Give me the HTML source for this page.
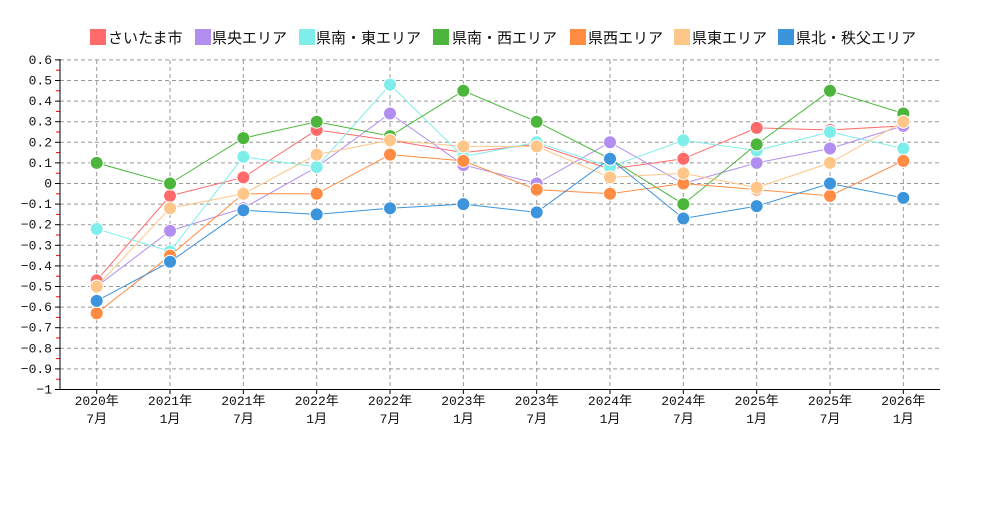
<!DOCTYPE html>
<html><head><meta charset="utf-8"><style>
body{margin:0;background:#fff;width:1000px;height:500px;overflow:hidden}
svg text{font-family:"Liberation Mono","Noto Sans CJK JP",monospace;font-size:13px;fill:#111}
</style></head><body>
<svg id="c" width="1000" height="500" xmlns="http://www.w3.org/2000/svg"></svg>
<script>
const s=document.getElementById('c');let h='';
const Y=v=>183.5-v*206;
const xs=i=>96.7+i*73.33;
for(let k=-10;k<=6;k++){const y=Y(k/10);
 if(k>-10)h+=`<line x1="60" x2="940" y1="${y}" y2="${y}" stroke="#999" stroke-dasharray="4,3"/>`;
 h+=`<line x1="55" x2="60" y1="${y}" y2="${y}" stroke="#000"/>`;
 const lab=k==0?'0':k==-10?'−1':(k<0?'−':'')+'0.'+Math.abs(k);
 h+=`<text x="52" y="${y+4}" text-anchor="end">${lab}</text>`;
 if(k<6){const y2=Y(k/10+0.05);h+=`<line x1="56" x2="60" y1="${y2}" y2="${y2}" stroke="#f00"/>`;}
}
const labs=[['2020年','7月'],['2021年','1月'],['2021年','7月'],['2022年','1月'],['2022年','7月'],['2023年','1月'],['2023年','7月'],['2024年','1月'],['2024年','7月'],['2025年','1月'],['2025年','7月'],['2026年','1月']];
labs.forEach((l,i)=>{const x=xs(i);
 h+=`<line x1="${x}" x2="${x}" y1="60" y2="389" stroke="#999" stroke-dasharray="4,3"/>`;
 h+=`<line x1="${x}" x2="${x}" y1="389" y2="394" stroke="#000"/>`;
 h+=`<text x="${x}" y="405" text-anchor="middle">${l[0]}</text><text x="${x}" y="423" text-anchor="middle">${l[1]}</text>`;});
h+=`<line x1="60" x2="60" y1="59" y2="389.5" stroke="#000"/><line x1="60" x2="940" y1="389.5" y2="389.5" stroke="#000"/>`;
const S=[
['さいたま市','#ff6b6b',[-0.47,-0.06,0.03,0.26,0.21,0.15,0.19,0.07,0.12,0.27,0.26,0.28],90,108],
['県央エリア','#b28ef0',[-0.5,-0.23,-0.12,0.08,0.34,0.09,0.0,0.2,0.0,0.1,0.17,0.28],195,212],
['県南・東エリア','#7eeeea',[-0.22,-0.33,0.13,0.08,0.48,0.13,0.2,0.08,0.21,0.16,0.25,0.17],299,316],
['県南・西エリア','#4cb63c',[0.1,0,0.22,0.3,0.23,0.45,0.3,0.12,-0.1,0.19,0.45,0.34],433,452],
['県西エリア','#ff8c42',[-0.63,-0.35,-0.05,-0.05,0.14,0.11,-0.03,-0.05,0.0,-0.03,-0.06,0.11],570,588],
['県東エリア','#ffc68a',[-0.5,-0.12,-0.05,0.14,0.21,0.18,0.18,0.03,0.05,-0.02,0.1,0.3],674,692],
['県北・秩父エリア','#3b94dc',[-0.57,-0.38,-0.13,-0.15,-0.12,-0.1,-0.14,0.12,-0.17,-0.11,0.0,-0.07],778,796]];
S.forEach(d=>{h+=`<polyline fill="none" stroke="${d[1]}" stroke-width="1" points="${d[2].map((v,i)=>xs(i)+','+Y(v)).join(' ')}"/>`;
 d[2].forEach((v,i)=>h+=`<circle cx="${xs(i)}" cy="${Y(v)}" r="6.5" fill="${d[1]}" stroke="#fff" stroke-width="1"/>`);
 h+=`<rect x="${d[3]}" y="29" width="16" height="16" fill="${d[1]}"/><text x="${d[4]}" y="43" style="font-size:15px;font-family:'Noto Sans CJK JP',sans-serif">${d[0]}</text>`;});
s.innerHTML=h;
</script>
</body></html>
